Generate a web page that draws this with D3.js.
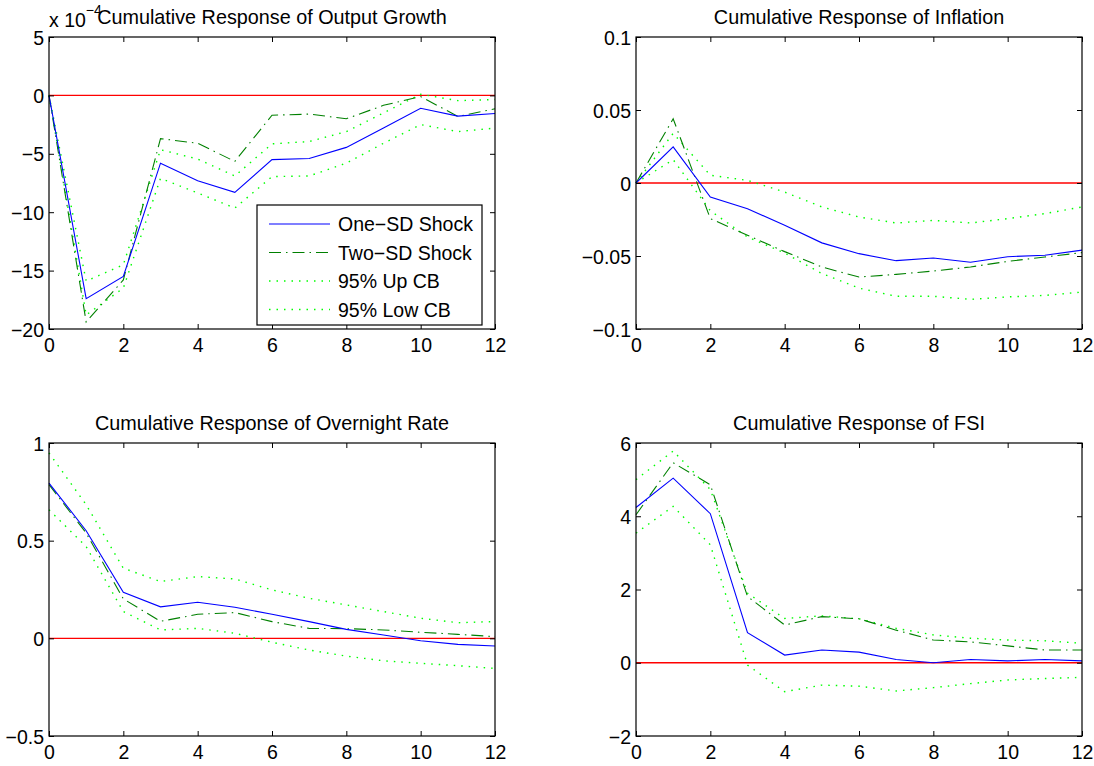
<!DOCTYPE html>
<html>
<head>
<meta charset="utf-8">
<script src="https://cdn.jsdelivr.net/npm/d3@7"></script>
<style>
body { margin: 0; background: #fff; }
svg text { font-family: "Liberation Sans", Arial, sans-serif; fill: #000; }
</style>
</head>
<body>
<div id="chart"></div>
<script>
var horizons = [0, 1, 2, 3, 4, 5, 6, 7, 8, 9, 10, 11, 12];
var xTicks = [0, 2, 4, 6, 8, 10, 12];
var seriesNames = ["One\u2212SD Shock", "Two\u2212SD Shock", "95% Up CB", "95% Low CB"];

// output growth, in units of 1e-4
var outputOne = [0, -17.4, -15.5, -5.8, -7.3, -8.3, -5.5, -5.4, -4.45, -2.8, -1.1, -1.77, -1.55];
var outputTwo = [0, -19.4, -15.8, -3.7, -4.1, -5.65, -1.7, -1.6, -2.0, -0.85, -0.1, -1.8, -1.15];
var outputUp = [0, -15.9, -14.5, -4.65, -5.45, -6.9, -4.15, -3.95, -3.1, -1.5, 0.1, -0.45, -0.35];
var outputLow = [0, -18.8, -16.5, -7.1, -8.35, -9.65, -6.95, -6.9, -5.8, -4.1, -2.5, -3.1, -2.8];
var outputTicks = [-20, -15, -10, -5, 0, 5];

var inflOne = [0, 0.0247, -0.0096, -0.0176, -0.029, -0.041, -0.0484, -0.0532, -0.0514, -0.0543, -0.0505, -0.0495, -0.046];
var inflTwo = [0, 0.044, -0.0244, -0.0358, -0.047, -0.0575, -0.0644, -0.0626, -0.0603, -0.0575, -0.0537, -0.0507, -0.0477];
var inflUp = [0, 0.034, 0.0053, 0.0018, -0.0062, -0.0164, -0.0233, -0.0274, -0.0256, -0.0274, -0.0244, -0.021, -0.0164];
var inflLow = [0, 0.016, -0.019, -0.037, -0.048, -0.062, -0.072, -0.0776, -0.0776, -0.0797, -0.078, -0.077, -0.0747];
var inflTicks = [-0.1, -0.05, 0, 0.05, 0.1];

var rateOne = [0.795, 0.551, 0.236, 0.161, 0.185, 0.159, 0.123, 0.0855, 0.046, 0.017, -0.012, -0.031, -0.039];
var rateTwo = [0.787, 0.539, 0.202, 0.087, 0.123, 0.132, 0.0855, 0.051, 0.0496, 0.043, 0.031, 0.0205, 0.0086];
var rateUp = [0.949, 0.684, 0.359, 0.291, 0.316, 0.304, 0.248, 0.205, 0.171, 0.137, 0.103, 0.08, 0.086];
var rateLow = [0.658, 0.47, 0.137, 0.043, 0.051, 0.026, -0.02, -0.06, -0.091, -0.115, -0.128, -0.14, -0.154];
var rateTicks = [-0.5, 0, 0.5, 1];

var fsiOne = [4.24, 5.04, 4.07, 0.82, 0.21, 0.35, 0.29, 0.09, 0.0, 0.09, 0.05, 0.09, 0.05];
var fsiTwo = [4.04, 5.46, 4.86, 1.81, 1.03, 1.26, 1.2, 0.89, 0.62, 0.57, 0.46, 0.35, 0.35];
var fsiUp = [5.0, 5.78, 4.73, 1.9, 1.21, 1.28, 1.2, 0.94, 0.76, 0.67, 0.62, 0.6, 0.53];
var fsiLow = [3.54, 4.27, 3.22, -0.06, -0.79, -0.61, -0.64, -0.77, -0.68, -0.57, -0.47, -0.43, -0.4];
var fsiTicks = [-2, 0, 2, 4, 6];

var W = 1094, H = 766;
var fs = "19.5px";
var svg = d3.select("#chart").append("svg").attr("width", W).attr("height", H);

// line styles: blue solid, dark green dash-dot, light green dotted
var styles = [
  { color: "#0000ff", dash: null },
  { color: "#008000", dash: "12,5,1.5,5" },
  { color: "#00ff00", dash: "1.5,6" },
  { color: "#00ff00", dash: "1.5,6" }
];

function fmt(v) {
  return (v < 0 ? "\u2212" : "") + String(Math.abs(v));
}

function panel(opt) {
  var x = d3.scaleLinear().domain([0, 12]).range([opt.left, opt.left + 446]);
  var y = d3.scaleLinear().domain(opt.domain).range([opt.top + opt.h, opt.top]);
  var g = svg.append("g");

  // zero reference line
  g.append("path")
    .attr("d", d3.line()([[x(0), y(0)], [x(12), y(0)]]))
    .attr("stroke", "#ff0000").attr("stroke-width", 1.3).attr("fill", "none");

  var line = d3.line().x(function(d, i) { return x(horizons[i]); }).y(function(d) { return y(d); });
  // draw bands first, then the shocks
  [3, 2, 1, 0].forEach(function(k) {
    g.append("path")
      .attr("d", line(opt.series[k]))
      .attr("fill", "none")
      .attr("stroke", styles[k].color)
      .attr("stroke-width", k >= 2 ? 1.4 : 1.1)
      .attr("stroke-dasharray", styles[k].dash);
  });

  // box
  g.append("rect")
    .attr("x", opt.left).attr("y", opt.top).attr("width", 446).attr("height", opt.h)
    .attr("fill", "none").attr("stroke", "#000").attr("stroke-width", 1.2);

  // inward ticks on all sides
  var ax = d3.axisBottom(x).tickValues(xTicks).tickSize(-5).tickFormat(function(d) { return d; });
  var axb = g.append("g").attr("transform", "translate(0," + (opt.top + opt.h) + ")").call(ax);
  var axt = g.append("g").attr("transform", "translate(0," + opt.top + ")")
    .call(d3.axisTop(x).tickValues(xTicks).tickSize(-5).tickFormat(""));
  var ay = d3.axisLeft(y).tickValues(opt.ticks).tickSize(-5).tickFormat(fmt);
  var ayl = g.append("g").attr("transform", "translate(" + opt.left + ",0)").call(ay);
  var ayr = g.append("g").attr("transform", "translate(" + (opt.left + 446) + ",0)")
    .call(d3.axisRight(y).tickValues(opt.ticks).tickSize(-5).tickFormat(""));
  [axb, axt, ayl, ayr].forEach(function(a) {
    a.select(".domain").remove();
    a.selectAll(".tick line").attr("stroke", "#000");
    a.selectAll("text").style("font-family", "Liberation Sans, Arial, sans-serif").style("font-size", fs).attr("fill", "#000");
  });
  axb.selectAll("text").attr("dy", null).attr("y", 23);
  ayl.selectAll("text").attr("x", -5).attr("dy", "0.36em");

  g.append("text")
    .attr("x", opt.left + 223).attr("y", opt.top - 13)
    .attr("text-anchor", "middle").style("font-size", "19.8px")
    .text(opt.title);
  return { x: x, y: y, g: g };
}

panel({ left: 49, top: 37, h: 292, domain: [-20, 5], ticks: outputTicks,
  title: "Cumulative Response of Output Growth", series: [outputOne, outputTwo, outputUp, outputLow] });
panel({ left: 636, top: 37, h: 292, domain: [-0.1, 0.1], ticks: inflTicks,
  title: "Cumulative Response of Inflation", series: [inflOne, inflTwo, inflUp, inflLow] });
panel({ left: 49, top: 443, h: 293, domain: [-0.5, 1], ticks: rateTicks,
  title: "Cumulative Response of Overnight Rate", series: [rateOne, rateTwo, rateUp, rateLow] });
panel({ left: 636, top: 443, h: 293, domain: [-2, 6], ticks: fsiTicks,
  title: "Cumulative Response of FSI", series: [fsiOne, fsiTwo, fsiUp, fsiLow] });

// exponent label for the first panel
var ex = svg.append("text").attr("x", 49).attr("y", 27).style("font-size", fs);
ex.append("tspan").text("x 10");
ex.append("tspan").attr("dy", -12).style("font-size", "14px").text("\u22124");

// legend
var lg = svg.append("g").attr("transform", "translate(257,205)");
lg.append("rect").attr("width", 225).attr("height", 120)
  .attr("fill", "#fff").attr("stroke", "#000").attr("stroke-width", 1.2);
seriesNames.forEach(function(name, i) {
  var yy = 19 + i * 28.5;
  lg.append("line").attr("x1", 12).attr("x2", 73).attr("y1", yy).attr("y2", yy)
    .attr("stroke", styles[i].color).attr("stroke-width", i >= 2 ? 1.4 : 1.1)
    .attr("stroke-dasharray", styles[i].dash);
  lg.append("text").attr("x", 81).attr("y", yy).attr("dy", "0.36em")
    .style("font-size", fs).text(name);
});
</script>
</body>
</html>
